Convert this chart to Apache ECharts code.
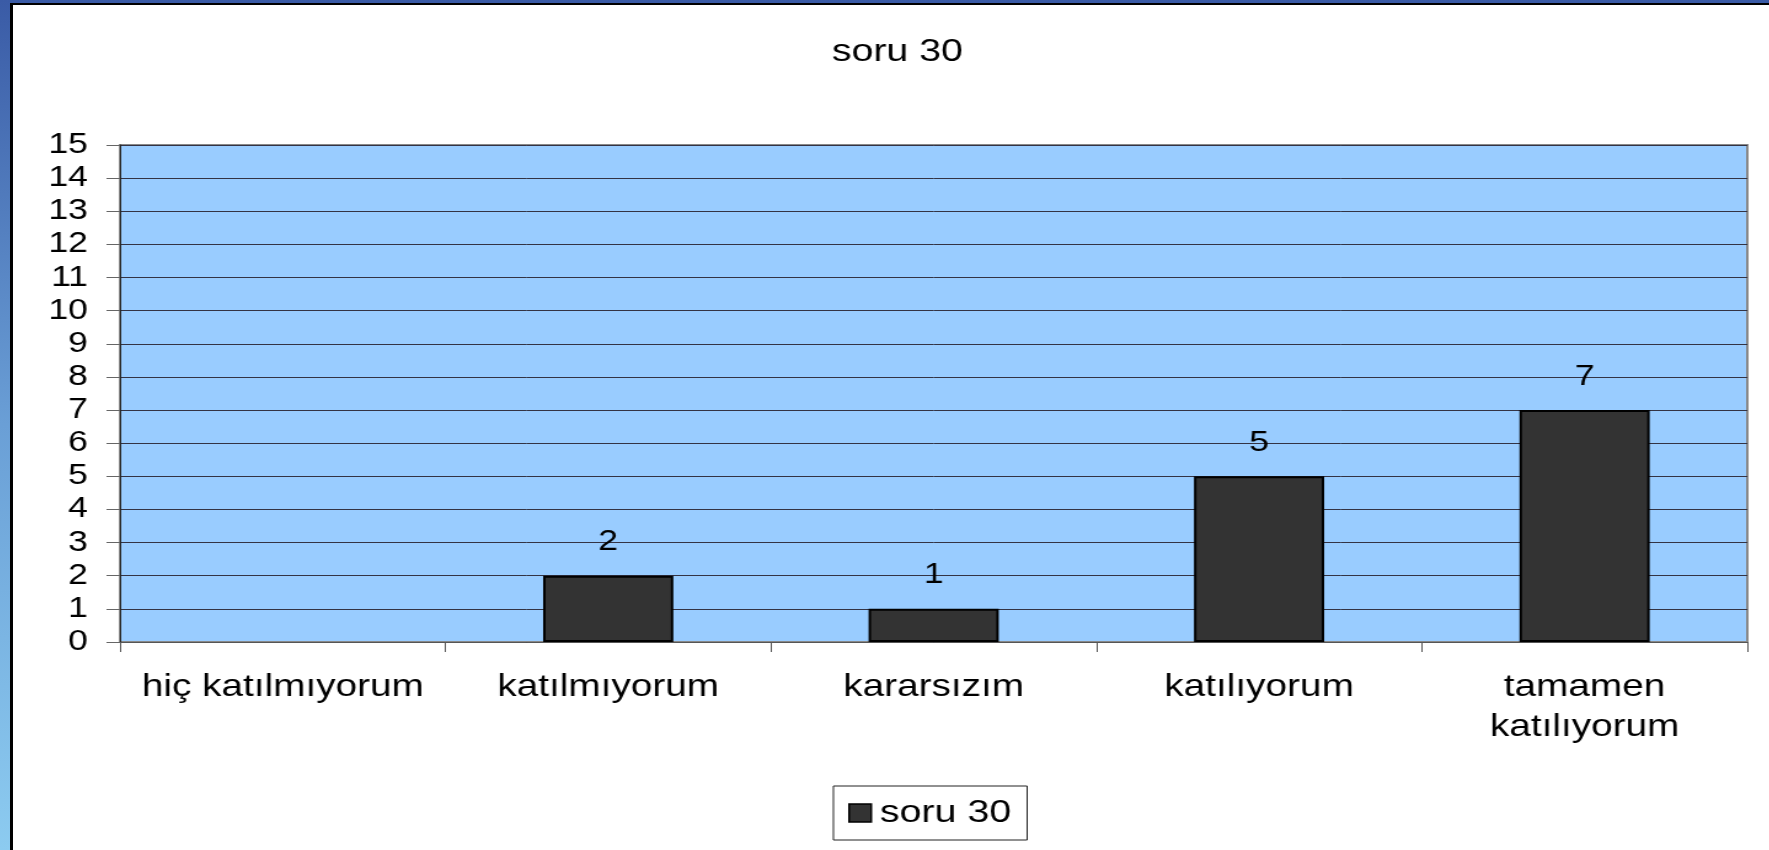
<!DOCTYPE html>
<html>
<head>
<meta charset="utf-8">
<script src="https://cdn.jsdelivr.net/npm/echarts@6/dist/echarts.min.js"></script>
<style>
html, body { margin: 0; padding: 0; width: 1769px; height: 850px; overflow: hidden; }
body { background: linear-gradient(to bottom, #3a5ba6 0%, #6a9fd6 50%, #8ccbf0 100%); }
#frame {
	position: absolute; left: 10px; top: 3px;
	width: 1756px; height: 845px;
	border-left: 3px solid #000; border-top: 2px solid #000;
	background: #fff; overflow: hidden;
}
/* the original picture is stretched sideways, so the chart is too */
#chart {
	position: absolute; left: 0; top: 0;
	width: 1428px; height: 845px;
	transform: scaleX(1.23); transform-origin: 0 0;
}
</style>
</head>
<body>
<div id="frame"><div id="chart"></div></div>
<script>
// soru 30 yanıt dağılımı
var categories = ["hiç katılmıyorum", "katılmıyorum", "kararsızım", "katılıyorum", "tamamen\nkatılıyorum"];
var values = [0, 2, 1, 5, 7];
var seriesName = "soru 30";
var yMin = 0, yMax = 15, yStep = 1;

var font = "Liberation Sans, Arial, sans-serif";
var chart = echarts.init(document.getElementById("chart"));
var option = {
	animation: false,
	title: {
		text: "soru 30",
		left: 714,
		top: 26,
		textAlign: "center",
		textStyle: { fontFamily: font, fontSize: 32, fontWeight: "normal", color: "#000" },
	},
	legend: {
		data: [seriesName],
		left: 667,
		top: 781,
		padding: [11, 13, 11, 12],
		itemWidth: 18,
		itemHeight: 18,
		itemGap: 8,
		borderColor: "#222",
		borderWidth: 1,
		icon: "rect",
		itemStyle: { borderColor: "#000", borderWidth: 1.5 },
		textStyle: { fontFamily: font, fontSize: 32, color: "#000", padding: [0, 0, 0, 2] },
	},
	grid: {
		left: 87,
		right: 18,
		top: 140,
		bottom: 208,
		show: true,
		backgroundColor: "#99ccff",
		borderColor: "#888",
		borderWidth: 2,
	},
	xAxis: {
		type: "category",
		data: categories,
		axisLine: { show: true, lineStyle: { color: "#555", width: 1 } },
		axisTick: { show: true, alignWithLabel: false, length: 10, lineStyle: { color: "#555" } },
		axisLabel: {
			fontFamily: font, fontSize: 31.5, color: "#000", margin: 25, lineHeight: 40,
			interval: 0,
		},
		splitLine: { show: false },
	},
	yAxis: {
		type: "value",
		min: yMin,
		max: yMax,
		interval: yStep,
		axisLine: { show: true, lineStyle: { color: "#222", width: 1 } },
		axisTick: { show: true, inside: false, length: 11, lineStyle: { color: "#666" } },
		axisLabel: { fontFamily: font, fontSize: 29, color: "#000", margin: 26 },
		splitLine: { show: true, lineStyle: { color: "#334", width: 1 } },
	},
	series: [
		{
			name: seriesName,
			type: "bar",
			// a zero bar gets no outline, like the original
			data: values.map(function (v) {
				return v === 0 ? { value: v, itemStyle: { borderWidth: 0 } } : v;
			}),
			barWidth: "40%",
			itemStyle: { color: "#333333", borderColor: "#000", borderWidth: 2 },
			label: {
				show: true,
				position: "top",
				distance: 19,
				fontFamily: font,
				fontSize: 29,
				color: "#000",
				formatter: function (p) { return p.value === 0 ? "" : p.value; },
			},
		},
	],
};
chart.setOption(option, true);
</script>
</body>
</html>
